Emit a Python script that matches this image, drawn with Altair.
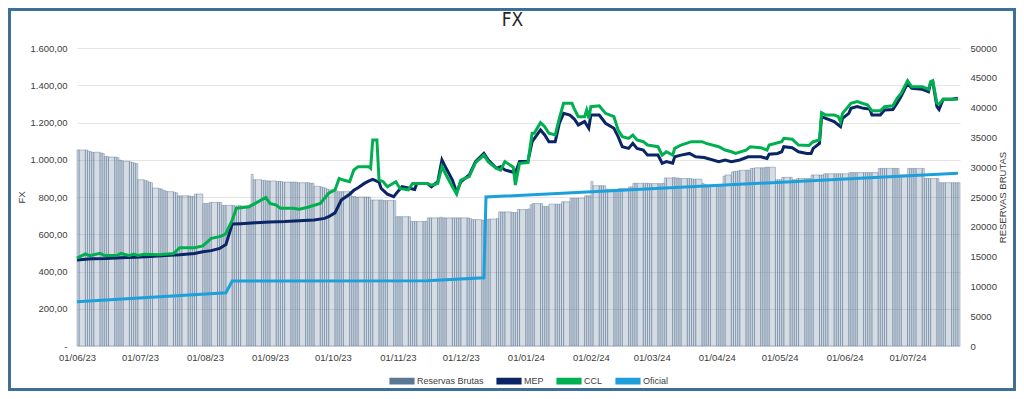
import altair as alt
import pandas as pd

# ---------------- Reservas Brutas (USD millones), un valor por día hábil ----------------
res_2023_06 = [32900, 32900,
               32900, 32700, 32600, 32500, 32500,
               32400, 32300, 31800, 31800, 31700,
               31700, 31600, 31200, 31100, 31000,
               30900, 30800, 30700, 30600, 27900]
res_2023_07 = [27800, 27700, 27500, 27400, 26500,
               26400, 26300, 26100, 26000, 25900,
               25800, 25700, 25200, 25200, 25200,
               25200, 25100, 25100, 25500, 25500,
               23900]
res_2023_08 = [23900, 23900, 24100, 24100,
               24100, 24100, 23600, 23600, 23600,
               23600, 23500, 23500, 23600, 23500,
               23500, 23400, 28800, 27900, 27900,
               27800, 27800, 27700, 27700]
res_2023_09 = [27700,
               27600, 27600, 27600, 27500, 27500,
               27500, 27500, 27500, 27400, 27400,
               27400, 27400, 27300, 27300, 26800,
               26700, 26600, 26500, 26300, 26200]
res_2023_10 = [26100, 25900, 25900, 25900, 25900,
               25900, 25100, 25100, 25000, 25000,
               25000, 25000, 25000, 24500, 24500,
               24500, 24500, 24400, 24400, 24400,
               24400, 21700]
res_2023_11 = [21700, 21700, 21700,
               21700, 20900, 20900, 20900, 20900,
               20900, 20900, 21500, 21500, 21500,
               21500, 21600, 21500, 21500, 21500,
               21500, 21500, 21500, 21500]
res_2023_12 = [21500,
               21500, 21400, 21200, 21200, 21200,
               21100, 21100, 21200, 21300, 21300,
               21400, 22500, 22500, 22500, 22500,
               22400, 22400, 22400, 22900, 22900]
res_2024_01 = [22900, 23000, 23700, 23900, 23900,
               23900, 23400, 23400, 23400, 23800,
               23800, 23800, 23800, 24200, 24200,
               24800, 24800, 24800, 24800, 24800,
               25200, 25200, 25200]
res_2024_02 = [27600, 26900,
               26900, 26900, 26900, 26300, 26300,
               26300, 26300, 26400, 26400, 26400,
               26700, 26700, 27300, 27300, 27300,
               27300, 27300, 27300, 27250]
res_2024_03 = [27250,
               27250, 27250, 27300, 28200, 28200,
               28300, 28200, 28200, 28100, 28100,
               28100, 28100, 28000, 28000, 28000,
               27300, 27100, 27000, 27000, 26900]
res_2024_04 = [26900, 27000, 27000, 28500, 28700,
               29200, 29300, 29300, 29400, 29500,
               29500, 29500, 29800, 29800, 29900,
               29900, 29900, 30000, 30000, 30000,
               27900, 27900]
res_2024_05 = [27900, 28300, 28300,
               28300, 27900, 27900, 28100, 28100,
               28100, 28100, 28100, 28700, 28700,
               28700, 28700, 28900, 28900, 28900,
               28900, 28900, 28900, 28900, 28900]
res_2024_06 = [29100, 29100, 29100, 29100, 29100,
               29100, 29100, 29100, 29100, 29100,
               29800, 29800, 29800, 29800, 29800,
               29800, 29800, 29800, 28700, 28700]
res_2024_07 = [29800, 29800, 29800, 29800, 29800,
               29800, 28100, 28100, 28100, 28100,
               28100, 27400, 27400, 27400, 27400,
               27400, 27400, 27400, 27400]

# ---------------- MEP ----------------
mep_dates = ["2023-06-01", "2023-06-08", "2023-06-15", "2023-06-22", "2023-06-29", "2023-07-06",
             "2023-07-13", "2023-07-20", "2023-07-27", "2023-07-31", "2023-08-04", "2023-08-08",
             "2023-08-11", "2023-08-14", "2023-08-18", "2023-08-25", "2023-09-01", "2023-09-08",
             "2023-09-15", "2023-09-22", "2023-09-27", "2023-09-29", "2023-10-02", "2023-10-05",
             "2023-10-09", "2023-10-11", "2023-10-13", "2023-10-16", "2023-10-18", "2023-10-20",
             "2023-10-23", "2023-10-24", "2023-10-27", "2023-10-30", "2023-11-01", "2023-11-03",
             "2023-11-07", "2023-11-09", "2023-11-10", "2023-11-15", "2023-11-17", "2023-11-20",
             "2023-11-22", "2023-11-24", "2023-11-27", "2023-11-29", "2023-12-01", "2023-12-05",
             "2023-12-08", "2023-12-12", "2023-12-14", "2023-12-18", "2023-12-20", "2023-12-22",
             "2023-12-27", "2023-12-29", "2024-01-02", "2024-01-04", "2024-01-08", "2024-01-10",
             "2024-01-12", "2024-01-15", "2024-01-17", "2024-01-19", "2024-01-22", "2024-01-24",
             "2024-01-26", "2024-01-29", "2024-01-31", "2024-02-01", "2024-02-05", "2024-02-08",
             "2024-02-12", "2024-02-14", "2024-02-16", "2024-02-19", "2024-02-21", "2024-02-23",
             "2024-02-26", "2024-02-28", "2024-03-04", "2024-03-06", "2024-03-08", "2024-03-11",
             "2024-03-12", "2024-03-15", "2024-03-19", "2024-03-22", "2024-03-26", "2024-04-02",
             "2024-04-05", "2024-04-08", "2024-04-12", "2024-04-16", "2024-04-22", "2024-04-25",
             "2024-04-26", "2024-04-30", "2024-05-02", "2024-05-03", "2024-05-07", "2024-05-10",
             "2024-05-14", "2024-05-16", "2024-05-17", "2024-05-20", "2024-05-21", "2024-05-23",
             "2024-05-27", "2024-05-30", "2024-05-31", "2024-06-03", "2024-06-04", "2024-06-07",
             "2024-06-10", "2024-06-13", "2024-06-14", "2024-06-18", "2024-06-20", "2024-06-24",
             "2024-06-26", "2024-06-28", "2024-07-01", "2024-07-03", "2024-07-08", "2024-07-11",
             "2024-07-12", "2024-07-13", "2024-07-15", "2024-07-16", "2024-07-18", "2024-07-22",
             "2024-07-25"]
mep_values = [462, 468, 470, 474, 477, 481,
              486, 490, 497, 506, 512, 524,
              545, 655, 657, 662, 666, 668,
              672, 676, 685, 694, 715, 784,
              815, 836, 850, 873, 885, 895,
              880, 846, 815, 802, 830, 855,
              846, 840, 873, 873, 855, 882,
              999, 954, 891, 825, 882, 918,
              990, 1034, 999, 954, 963, 945,
              930, 990, 990, 1097, 1160, 1133,
              1097, 1097, 1196, 1249, 1240, 1220,
              1187, 1205, 1169, 1240, 1240, 1196,
              1169, 1124, 1070, 1061, 1088, 1061,
              1052, 1025, 1025, 981, 990, 981,
              1016, 1025, 1034, 1016, 1012, 990,
              999, 990, 999, 1016, 1016, 1007,
              1030, 1034, 1043, 1070, 1065, 1043,
              1034, 1034, 1061, 1088, 1231, 1222,
              1205, 1178, 1222, 1249, 1276, 1285,
              1276, 1272, 1240, 1240, 1267, 1270,
              1303, 1342, 1410, 1383, 1378, 1365,
              1415, 1420, 1285, 1270, 1325, 1325,
              1330]

# ---------------- CCL ----------------
ccl_dates = ["2023-06-01", "2023-06-05", "2023-06-07", "2023-06-12", "2023-06-14", "2023-06-20",
             "2023-06-22", "2023-06-26", "2023-06-28", "2023-06-30", "2023-07-03", "2023-07-10",
             "2023-07-17", "2023-07-20", "2023-07-27", "2023-07-31", "2023-08-04", "2023-08-08",
             "2023-08-10", "2023-08-11", "2023-08-14", "2023-08-16", "2023-08-22", "2023-08-25",
             "2023-08-30", "2023-09-01", "2023-09-04", "2023-09-06", "2023-09-12", "2023-09-15",
             "2023-09-19", "2023-09-25", "2023-09-29", "2023-10-02", "2023-10-04", "2023-10-06",
             "2023-10-09", "2023-10-11", "2023-10-13", "2023-10-18", "2023-10-19", "2023-10-20",
             "2023-10-22", "2023-10-23", "2023-10-25", "2023-10-27", "2023-10-31", "2023-11-02",
             "2023-11-06", "2023-11-08", "2023-11-13", "2023-11-15", "2023-11-17", "2023-11-20",
             "2023-11-22", "2023-11-24", "2023-11-27", "2023-11-29", "2023-12-01", "2023-12-05",
             "2023-12-08", "2023-12-12", "2023-12-14", "2023-12-18", "2023-12-20", "2023-12-22",
             "2023-12-26", "2023-12-27", "2023-12-29", "2024-01-02", "2024-01-04", "2024-01-05",
             "2024-01-08", "2024-01-10", "2024-01-12", "2024-01-15", "2024-01-17", "2024-01-19",
             "2024-01-23", "2024-01-24", "2024-01-26", "2024-01-29", "2024-01-30", "2024-01-31",
             "2024-02-01", "2024-02-05", "2024-02-08", "2024-02-12", "2024-02-14", "2024-02-16",
             "2024-02-19", "2024-02-21", "2024-02-23", "2024-02-26", "2024-02-28", "2024-03-04",
             "2024-03-06", "2024-03-08", "2024-03-11", "2024-03-12", "2024-03-15", "2024-03-20",
             "2024-03-25", "2024-03-27", "2024-04-02", "2024-04-05", "2024-04-08", "2024-04-10",
             "2024-04-15", "2024-04-17", "2024-04-22", "2024-04-25", "2024-04-26", "2024-05-02",
             "2024-05-03", "2024-05-07", "2024-05-10", "2024-05-15", "2024-05-17", "2024-05-20",
             "2024-05-21", "2024-05-23", "2024-05-27", "2024-05-29", "2024-05-30", "2024-05-31",
             "2024-06-04", "2024-06-07", "2024-06-12", "2024-06-14", "2024-06-18", "2024-06-20",
             "2024-06-24", "2024-06-26", "2024-06-28", "2024-07-01", "2024-07-03", "2024-07-08",
             "2024-07-10", "2024-07-11", "2024-07-12", "2024-07-13", "2024-07-15", "2024-07-16",
             "2024-07-18", "2024-07-25"]
ccl_values = [472, 495, 485, 498, 486, 486,
              497, 485, 493, 486, 492, 490,
              496, 528, 528, 537, 578, 587,
              596, 605, 676, 739, 748, 766,
              798, 766, 757, 739, 739, 734,
              745, 766, 820, 838, 900, 891,
              882, 945, 963, 963, 954, 1106,
              1106, 891, 882, 855, 882, 846,
              838, 873, 873, 873, 864, 873,
              963, 918, 855, 816, 891, 909,
              984, 1025, 990, 954, 945, 990,
              960, 864, 981, 985, 1142, 1142,
              1199, 1178, 1142, 1133, 1223, 1303,
              1303, 1276, 1231, 1231, 1267, 1222,
              1285, 1290, 1249, 1231, 1160, 1124,
              1115, 1133, 1106, 1097, 1079, 1070,
              1025, 1043, 1025, 1061, 1079, 1097,
              1097, 1088, 1070, 1052, 1043, 1034,
              1052, 1070, 1065, 1052, 1079, 1097,
              1115, 1110, 1079, 1077, 1097, 1106,
              1253, 1240, 1240, 1231, 1204, 1249,
              1303, 1312, 1294, 1263, 1263, 1285,
              1290, 1330, 1357, 1425, 1392, 1392,
              1383, 1378, 1420, 1425, 1303, 1298,
              1325, 1325]

# ---------------- Oficial ----------------
oficial_dates = ["2023-06-01", "2023-08-11", "2023-08-14", "2023-11-15", "2023-12-12",
                 "2023-12-13", "2024-07-25"]
oficial_values = [238, 286, 349, 350, 366, 800, 927]

series_order = ["Reservas Brutas", "MEP", "CCL", "Oficial"]
series_colors = ["#5b7794", "#0b2466", "#00b050", "#1ca0dc"]

# ---------------- tablas ----------------
res_months = [("2023-06", res_2023_06), ("2023-07", res_2023_07), ("2023-08", res_2023_08),
              ("2023-09", res_2023_09), ("2023-10", res_2023_10), ("2023-11", res_2023_11),
              ("2023-12", res_2023_12), ("2024-01", res_2024_01), ("2024-02", res_2024_02),
              ("2024-03", res_2024_03), ("2024-04", res_2024_04), ("2024-05", res_2024_05),
              ("2024-06", res_2024_06), ("2024-07", res_2024_07)]
res_dates, res_values = [], []
for ym, vals in res_months:
    start = pd.Timestamp(ym + "-01")
    days = pd.bdate_range(start, start + pd.offsets.MonthEnd(0))
    for d, v in zip(days, vals):
        res_dates.append(d)
        res_values.append(v)
# each bar spans from its business day to the next one
res_next = res_dates[1:] + [res_dates[-1] + pd.Timedelta(days=1)]
res_df = pd.DataFrame({
    "date": [d.strftime("%Y-%m-%d") for d in res_dates],
    "next": [d.strftime("%Y-%m-%d") for d in res_next],
    "value": res_values,
    "serie": "Reservas Brutas",
})

line_rows = []
for name, ds, vs in [("Oficial", oficial_dates, oficial_values),
                     ("MEP", mep_dates, mep_values),
                     ("CCL", ccl_dates, ccl_values)]:
    for d, v in zip(ds, vs):
        line_rows.append({"date": d, "value": v, "serie": name})
lines_df = pd.DataFrame(line_rows)

FONT = "Liberation Sans"
TITLE_FONT = "'Liberation Sans Narrow', 'DejaVu Sans Condensed', 'Liberation Sans'"
LABEL = "#404040"

month_ticks = [alt.DateTime(year=y, month=m, date=1, utc=True)
               for y, m in [(2023, 6), (2023, 7), (2023, 8), (2023, 9), (2023, 10), (2023, 11),
                            (2023, 12), (2024, 1), (2024, 2), (2024, 3), (2024, 4), (2024, 5),
                            (2024, 6), (2024, 7)]]
x_enc = alt.X("date:T",
              scale=alt.Scale(type="utc",
                              domain=[alt.DateTime(year=2023, month=6, date=1, utc=True),
                                      alt.DateTime(year=2024, month=7, date=26, utc=True)]),
              axis=alt.Axis(values=month_ticks, labelExpr="utcFormat(datum.value, '%d/%m/%y')",
                            title=None, grid=False, ticks=False, domain=False, labelFlush=False,
                            labelPadding=6, labelFontSize=9.5, labelColor=LABEL, labelFont=FONT))

color_enc = alt.Color("serie:N",
                      scale=alt.Scale(domain=series_order, range=series_colors),
                      sort=series_order,
                      legend=alt.Legend(title=None, orient="none", direction="horizontal",
                                        legendX=312, legendY=320,
                                        symbolType="M-1,-0.22H1V0.22H-1Z", symbolSize=560,
                                        symbolOpacity=1,
                                        labelFontSize=9, labelFont=FONT, labelColor=LABEL,
                                        columnPadding=10, labelOffset=2))

bars = alt.Chart(res_df).mark_bar(fillOpacity=0.26, strokeOpacity=0.7, strokeWidth=0.6,
                                  stroke="#5b7794").encode(
    x=x_enc,
    x2=alt.X2("next:T"),
    y=alt.Y("value:Q", scale=alt.Scale(domain=[0, 50000]),
            axis=alt.Axis(orient="right", title="RESERVAS BRUTAS", titleAngle=270,
                          values=list(range(0, 50001, 5000)), format="d", grid=False,
                          ticks=False, domain=False, labelPadding=10, labelFontSize=9.5,
                          labelColor=LABEL, labelFont=FONT, titleFont=FONT, titleFontSize=9.5,
                          titleFontWeight="normal", titleColor=LABEL, titlePadding=11)),
    y2=alt.datum(0),
    color=color_enc,
)

lines = alt.Chart(lines_df).mark_line(strokeWidth=3, interpolate="linear").encode(
    x=alt.X("date:T"),
    y=alt.Y("value:Q", scale=alt.Scale(domain=[0, 1600]),
            axis=alt.Axis(orient="left", title="FX", titleAngle=270,
                          values=list(range(0, 1601, 200)),
                          labelExpr="datum.value == 0 ? '-' : replace(replace(replace(format(datum.value, ',.2f'), ',', '#'), '.', ','), '#', '.')",
                          grid=True, gridColor="#e4e4e4", gridWidth=1, ticks=False, domain=False,
                          labelPadding=10, labelFontSize=9.5, labelColor=LABEL, labelFont=FONT,
                          titleFont=FONT, titleFontSize=9.5, titleFontWeight="normal",
                          titleColor=LABEL, titlePadding=4)),
    color=alt.Color("serie:N"),
    strokeWidth=alt.StrokeWidth("serie:N", scale=alt.Scale(domain=["Oficial", "MEP", "CCL"],
                                                           range=[3, 3.2, 3.6]), legend=None),
)

frame = alt.Chart(pd.DataFrame({"a": [0]})).mark_rect(
    filled=False, stroke="#3d6f97", strokeWidth=3, clip=False
).encode(x=alt.value(-67.5), x2=alt.value(883 + 54.5), y=alt.value(-38.5), y2=alt.value(298 + 43.5))

chart = alt.layer(bars, lines, frame).resolve_scale(y="independent").properties(
    width=883, height=298,
    autosize=alt.AutoSizeParams(type="none"),
    padding={"left": 69, "top": 40, "right": 56, "bottom": 45},
    title=alt.TitleParams("FX", fontSize=19, font=TITLE_FONT, fontWeight="normal", color="#262626",
                          anchor="middle", dx=-6, offset=-22),
    background="white",
).configure_view(strokeWidth=0)

chart.save("out.html", embed_options={"renderer": "svg", "actions": False})
